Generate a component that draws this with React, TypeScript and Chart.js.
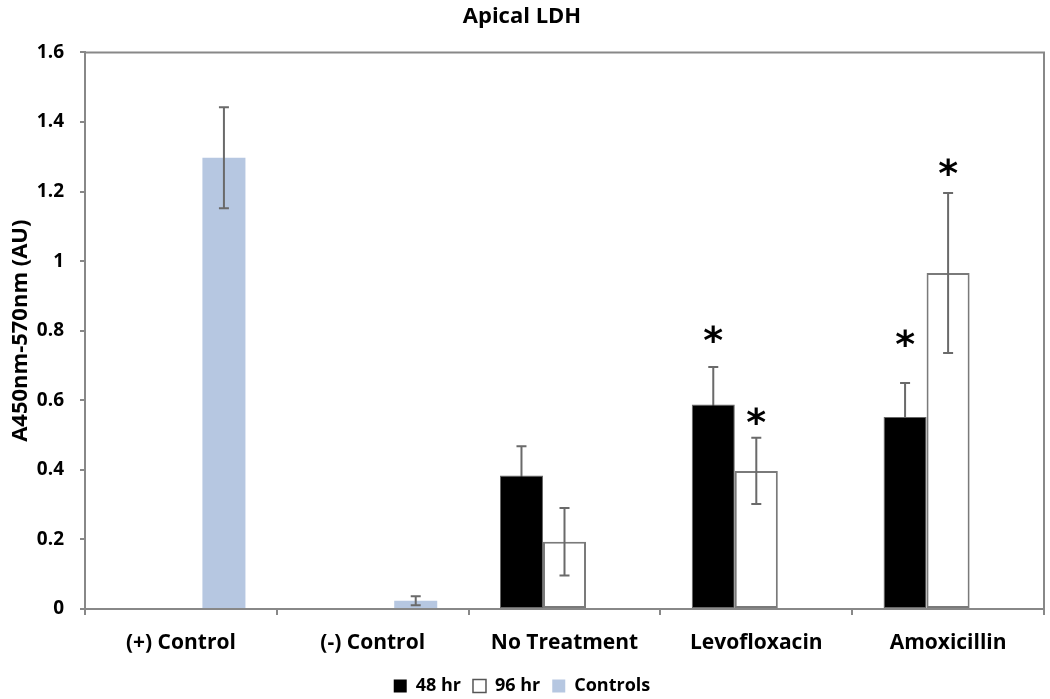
import React, { useEffect, useRef } from 'react';
import { Chart, registerables } from 'chart.js';

Chart.register(...registerables);

const categories = ['(+) Control', '(-) Control', 'No Treatment', 'Levofloxacin', 'Amoxicillin'];
const hr48 = [null, null, 0.384, 0.588, 0.552];
const hr48Err = [null, null, 0.084, 0.108, 0.098];
const hr96 = [null, null, 0.193, 0.397, 0.966];
const hr96Err = [null, null, 0.097, 0.095, 0.23];
const controls = [1.297, 0.024, null, null, null];
const controlsErr = [0.145, 0.013, null, null, null];
const star48 = [null, null, null, 0.79, 0.78];
const star96 = [null, null, null, 0.555, 1.27];
const seriesNames = ['48 hr', '96 hr', 'Controls'];
const yTickValues = [0, 0.2, 0.4, 0.6, 0.8, 1, 1.2, 1.4, 1.6];

const FONT = '"Open Sans", Lato, sans-serif';
const GREY = '#888888';
const ERR = '#6a6a6a';

const errorsByDataset = [hr48Err, hr96Err, controlsErr];
const errorBehind = [true, false, false];
const starsByDataset = [star48, star96, null];

function drawErrors(chart: any, behind: boolean) {
  const ctx = chart.ctx;
  const ys = chart.scales.y;
  chart.data.datasets.forEach((ds: any, i: number) => {
    const errs = errorsByDataset[i];
    if (!errs || errorBehind[i] !== behind) return;
    const meta = chart.getDatasetMeta(i);
    meta.data.forEach((el: any, j: number) => {
      const v = ds.data[j];
      const e = errs[j];
      if (v == null || e == null) return;
      const x = el.x;
      const yt = ys.getPixelForValue(v + e);
      const yb = ys.getPixelForValue(v - e);
      ctx.save();
      ctx.strokeStyle = ERR;
      ctx.lineWidth = 2;
      ctx.beginPath();
      ctx.moveTo(x, yt);
      ctx.lineTo(x, yb);
      ctx.moveTo(x - 5, yt);
      ctx.lineTo(x + 5, yt);
      ctx.moveTo(x - 5, yb);
      ctx.lineTo(x + 5, yb);
      ctx.stroke();
      ctx.restore();
    });
  });
}

const extrasPlugin = {
  id: 'extras',
  beforeDatasetsDraw(chart: any) {
    drawErrors(chart, true);
  },
  afterDatasetsDraw(chart: any) {
    drawErrors(chart, false);
    const ctx = chart.ctx;
    const ys = chart.scales.y;
    starsByDataset.forEach((stars, i) => {
      if (!stars) return;
      const meta = chart.getDatasetMeta(i);
      meta.data.forEach((el: any, j: number) => {
        const s = stars[j];
        if (s == null) return;
        ctx.save();
        ctx.fillStyle = '#000';
        ctx.font = 'bold 38px "DejaVu Sans", sans-serif';
        ctx.textAlign = 'center';
        ctx.textBaseline = 'middle';
        ctx.fillText('*', el.x, ys.getPixelForValue(s) + 9);
        ctx.restore();
      });
    });
  },
  afterDraw(chart: any) {
    const ctx = chart.ctx;
    const ys = chart.scales.y;
    const xs = chart.scales.x;
    const top = ys.getPixelForValue(1.6);
    const bottom = ys.getPixelForValue(0);
    const right = xs.right;
    const left = ys.right;
    ctx.save();
    ctx.strokeStyle = GREY;
    ctx.lineWidth = 2;
    ctx.beginPath();
    ctx.moveTo(left, top);
    ctx.lineTo(right, top);
    ctx.lineTo(right, bottom);
    ctx.stroke();
    ctx.restore();
  },
};

export default function App() {
  const ref = useRef<HTMLCanvasElement>(null);
  useEffect(() => {
    const chart = new Chart(ref.current as HTMLCanvasElement, {
      type: 'bar',
      data: {
        labels: categories,
        datasets: [
          {
            label: seriesNames[0],
            data: hr48 as any,
            backgroundColor: '#000000',
            borderColor: '#666666',
            borderWidth: 1,
            borderSkipped: false,
          },
          {
            label: seriesNames[1],
            data: hr96 as any,
            backgroundColor: '#ffffff',
            borderColor: '#7a7a7a',
            borderWidth: 2,
            borderSkipped: false,
          },
          {
            label: seriesNames[2],
            data: controls as any,
            backgroundColor: '#b6c7e1',
            borderWidth: 0,
          },
        ],
      },
      options: {
        animation: false,
        responsive: true,
        maintainAspectRatio: false,
        datasets: {
          bar: {
            categoryPercentage: 0.673,
            barPercentage: 1.0,
          },
        },
        layout: { padding: { left: 0, right: 6, top: 0, bottom: -6 } },
        plugins: {
          title: {
            display: true,
            text: 'Apical LDH',
            color: '#000',
            font: { family: FONT, size: 22, weight: 'bold' },
            padding: { top: 4, bottom: 22 },
          },
          legend: {
            display: true,
            position: 'bottom',
            labels: {
              color: '#000',
              font: { family: FONT, size: 18, weight: 'bold' },
              boxWidth: 13,
              boxHeight: 13,
              padding: 12,
              generateLabels: (ch: any) =>
                ch.data.datasets.map((ds: any, i: number) => ({
                  text: ds.label,
                  fillStyle: ds.backgroundColor,
                  strokeStyle: i === 1 ? '#555555' : ds.backgroundColor,
                  lineWidth: i === 1 ? 1.5 : 0,
                  fontColor: '#000',
                  hidden: false,
                  datasetIndex: i,
                })),
            },
          },
          tooltip: { enabled: false },
        },
        scales: {
          x: {
            grid: {
              display: true,
              drawOnChartArea: false,
              drawTicks: true,
              tickLength: 6,
              color: GREY,
              lineWidth: 2,
              offset: true,
            },
            border: { display: true, color: GREY, width: 2 },
            ticks: {
              color: '#000',
              font: { family: FONT, size: 21, weight: 'bold' },
              padding: 15,
              maxRotation: 0,
            },
            afterFit: (s: any) => {
              s.height = 56;
            },
          },
          y: {
            min: 0,
            max: 1.6,
            afterBuildTicks: (s: any) => {
              s.ticks = yTickValues.map((v) => ({ value: v }));
            },
            grid: {
              display: true,
              drawOnChartArea: false,
              drawTicks: true,
              tickLength: 5,
              color: GREY,
              lineWidth: 2,
            },
            border: { display: true, color: GREY, width: 2 },
            ticks: {
              color: '#000',
              font: { family: FONT, size: 19, weight: 'bold' },
              padding: 16,
              callback: (v: any) => String(Number(Number(v).toFixed(1))),
            },
            title: {
              display: true,
              text: 'A450nm-570nm (AU)',
              color: '#000',
              font: { family: FONT, size: 22, weight: 'bold' },
              padding: { top: 8, bottom: 0 },
            },
            afterFit: (s: any) => {
              s.width = 85;
            },
          },
        },
      },
      plugins: [extrasPlugin],
    });
    return () => chart.destroy();
  }, []);
  return (
    <div style={{ position: 'fixed', left: 0, top: 0, width: 1050, height: 699, background: '#ffffff' }}>
      <canvas ref={ref} />
    </div>
  );
}
